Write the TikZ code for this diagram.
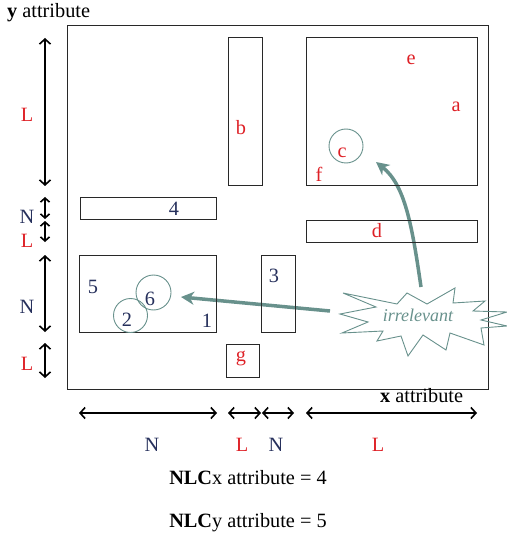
\documentclass[tikz,border=0pt]{standalone}
\usepackage{fontspec}
\setmainfont{Liberation Serif}
\usetikzlibrary{arrows.meta}
\definecolor{redl}{RGB}{222,32,38}
\definecolor{navy}{RGB}{38,48,92}
\definecolor{teal2}{RGB}{104,145,140}
\definecolor{boxgray}{RGB}{40,40,40}
\tikzset{
  box/.style={draw=boxgray, line width=1.1pt, inner sep=0pt, anchor=north west},
  lab/.style={font=\fontsize{20.3}{23}\selectfont, inner sep=0pt},
  redlab/.style={lab, text=redl},
  navylab/.style={lab, text=navy},
  blklab/.style={lab, text=black},
  ring/.style={draw=teal2, line width=0.9pt, circle, inner sep=0pt, minimum size=34pt},
  dim/.style={line width=1.6pt, {Straight Barb[length=5pt,width=11pt]}-{Straight Barb[length=5pt,width=11pt]}},
  smalldim/.style={line width=1.6pt, {Straight Barb[length=4pt,width=9pt]}-{Straight Barb[length=4pt,width=9pt]}},
  tealarrow/.style={draw=teal2, line width=3.5pt, -{Stealth[length=13pt,width=13pt,inset=4pt]}}
}
\begin{document}
\begin{tikzpicture}[x=1pt,y=-1pt]
\useasboundingbox (0,0) rectangle (506,537);
% outer frame
\node[box, line width=1.3pt, minimum width=421pt, minimum height=364pt] (frame) at (67,25) {};

% teal arrows (under boxes)
\coordinate (s1) at (330,311);
\coordinate (s2) at (421,287);
\coordinate (t1) at (181,297);
\coordinate (t2) at (376,162);
\draw[tealarrow] (s1) -- (t1);
\draw[tealarrow] (s2) .. controls (412,225) and (405,185) .. (t2);

% rectangles
\node[box, minimum width=34pt, minimum height=148pt] (rb) at (228,37) {};
\node[box, minimum width=171pt, minimum height=148pt] (ra) at (306,37) {};
\node[box, minimum width=136pt, minimum height=22pt] (r4) at (80,197) {};
\node[box, minimum width=171pt, minimum height=22pt] (rd) at (306,220) {};
\node[box, minimum width=137pt, minimum height=77pt] (r5) at (79,255) {};
\node[box, minimum width=34pt, minimum height=77pt] (r3) at (261,255) {};
\node[box, minimum width=33pt, minimum height=33pt] (rg) at (226,344) {};

% circles
\node[ring] (cc) at (346,146) {};
\node[ring, minimum size=35pt] (c6) at (153.5,292.5) {};
\node[ring] (c2) at (130.5,315.5) {};

% letters
\node[redlab] (le) at (411,60) {e};
\node[redlab] (la) at (456,107) {a};
\node[redlab] (lc) at (342,153) {c};
\node[redlab] (lf) at (319,174) {f};
\node[redlab] (lb) at (241,128) {b};
\node[redlab] (ld) at (377,231) {d};
\node[redlab] (lg) at (241,358) {g};
\node[navylab] (l4) at (174,209) {4};
\node[navylab] (l5) at (93,287) {5};
\node[navylab] (l6) at (150,299) {6};
\node[navylab] (l2) at (127,320) {2};
\node[navylab] (l1) at (207,321) {1};
\node[navylab] (l3) at (274,276) {3};

% starburst
\draw[teal2, line width=0.9pt] (343,293) -- (397,304) -- (407,293) -- (427,304) -- (455,288) -- (453,303) -- (485,301) -- (473,311) -- (507,312) -- (481,320) -- (507,326) -- (481,328) -- (484,345) -- (450,333) -- (446,350) -- (423,335) -- (408,356) -- (401,336) -- (377,341) -- (383,331) -- (342,333) -- (368,322) -- (340,314) -- (376,307) -- cycle;
\node[font=\fontsize{18}{20}\selectfont\itshape, text=teal2, inner sep=0pt] (irr) at (418,315) {irrelevant};

% axis titles
\node[blklab, anchor=west] (yat) at (7,13) {\textbf{y} attribute};
\node[blklab, anchor=west] (xat) at (380,396) {\textbf{x} attribute};

% left dimension arrows
\coordinate (ya1) at (45,38);  \coordinate (yb1) at (45,186);
\coordinate (ya2) at (45,197); \coordinate (yb2) at (45,219);
\coordinate (ya3) at (45,221); \coordinate (yb3) at (45,242);
\coordinate (ya4) at (45,255); \coordinate (yb4) at (45,332);
\coordinate (ya5) at (45,343); \coordinate (yb5) at (45,378);
\draw[dim] (ya1) -- (yb1);
\draw[smalldim] (ya2) -- (yb2);
\draw[smalldim] (ya3) -- (yb3);
\draw[dim] (ya4) -- (yb4);
\draw[dim] (ya5) -- (yb5);
\node[redlab] (yl1) at (27,115) {L};
\node[navylab] (yl2) at (27,217) {N};
\node[redlab] (yl3) at (27,241) {L};
\node[navylab] (yl4) at (27,307) {N};
\node[redlab] (yl5) at (27,364) {L};

% bottom dimension arrows
\coordinate (xa1) at (79,413);  \coordinate (xb1) at (217,413);
\coordinate (xa2) at (228,413); \coordinate (xb2) at (261,413);
\coordinate (xa3) at (262,413); \coordinate (xb3) at (294,413);
\coordinate (xa4) at (306,413); \coordinate (xb4) at (477,413);
\draw[dim] (xa1) -- (xb1);
\draw[dim] (xa2) -- (xb2);
\draw[dim] (xa3) -- (xb3);
\draw[dim] (xa4) -- (xb4);
\node[navylab] (xl1) at (152,445) {N};
\node[redlab] (xl2) at (242,445) {L};
\node[navylab] (xl3) at (276,445) {N};
\node[redlab] (xl4) at (378,445) {L};

% NLC captions
\node[blklab] (nlcx) at (248,478) {\textbf{NLC}x attribute = 4};
\node[blklab] (nlcy) at (248,523) {\textbf{NLC}y attribute = 5};
\end{tikzpicture}
\end{document}
